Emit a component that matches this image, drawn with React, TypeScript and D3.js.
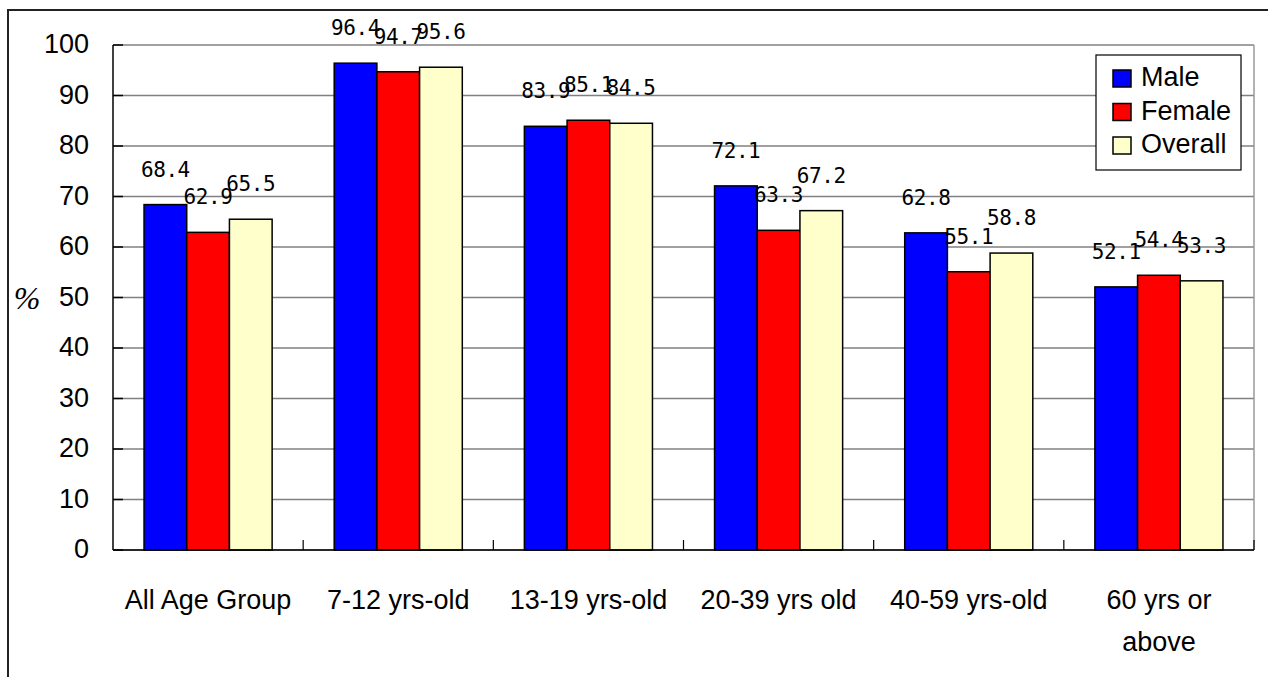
import React from "react";
import * as d3 from "d3";

const categories = ["All Age Group", "7-12 yrs-old", "13-19 yrs-old", "20-39 yrs old", "40-59 yrs-old", "60 yrs or above"];
const categoryLines = [["All Age Group"], ["7-12 yrs-old"], ["13-19 yrs-old"], ["20-39 yrs old"], ["40-59 yrs-old"], ["60 yrs or", "above"]];
const seriesNames = ["Male", "Female", "Overall"];
const maleValues = [68.4, 96.4, 83.9, 72.1, 62.8, 52.1];
const femaleValues = [62.9, 94.7, 85.1, 63.3, 55.1, 54.4];
const overallValues = [65.5, 95.6, 84.5, 67.2, 58.8, 53.3];
const seriesColors = ["#0000FF", "#FF0000", "#FFFFCC"];
const yTicks = [0, 10, 20, 30, 40, 50, 60, 70, 80, 90, 100];

const W = 1268;
const H = 677;
const plot = { left: 113, right: 1254, top: 45, bottom: 550 };
const sansFont = "'Liberation Sans', Arial, sans-serif";
const monoFont = "'DejaVu Sans Mono', 'Liberation Mono', monospace";

export default function App() {
  const seriesValues = [maleValues, femaleValues, overallValues];
  const x0 = d3.scaleBand<string>().domain(categories).range([plot.left, plot.right]).paddingInner(0).paddingOuter(0);
  const x1 = d3.scaleBand<string>().domain(seriesNames).range([0, x0.bandwidth()]).paddingInner(0).paddingOuter(0.727);
  const y = d3.scaleLinear().domain([0, 100]).range([plot.bottom, plot.top]);

  return (
    <svg width={W} height={H} style={{ position: "absolute", left: 0, top: 0, display: "block", background: "#fff" }}>
      {/* outer frame */}
      <rect x={8} y={10} width={W} height={H} fill="none" stroke="#222" strokeWidth={2} />

      {/* gridlines */}
      {yTicks.map((t) => (
        <line key={"g" + t} x1={plot.left} x2={plot.right} y1={y(t)} y2={y(t)} stroke="#808080" strokeWidth={1.5} />
      ))}
      {/* plot border right */}
      <line x1={plot.right} x2={plot.right} y1={plot.top} y2={plot.bottom} stroke="#999" strokeWidth={1.5} />

      {/* bars */}
      {seriesNames.map((s, si) =>
        categories.map((c, ci) => {
          const v = seriesValues[si][ci];
          const bx = (x0(c) as number) + (x1(s) as number);
          return (
            <rect key={s + c} x={bx} y={y(v)} width={x1.bandwidth()} height={plot.bottom - y(v)} fill={seriesColors[si]} stroke="#000" strokeWidth={1.5} />
          );
        })
      )}

      {/* axes */}
      <line x1={plot.left} x2={plot.left} y1={plot.top} y2={plot.bottom} stroke="#000" strokeWidth={1.5} />
      <line x1={plot.left} x2={plot.right} y1={plot.bottom} y2={plot.bottom} stroke="#000" strokeWidth={1.5} />
      {yTicks.map((t) => (
        <line key={"yt" + t} x1={plot.left} x2={plot.left + 10} y1={y(t)} y2={y(t)} stroke="#000" strokeWidth={1.5} />
      ))}
      {categories.slice(1).map((c) => (
        <line key={"xt" + c} x1={x0(c) as number} x2={x0(c) as number} y1={plot.bottom} y2={plot.bottom - 10} stroke="#000" strokeWidth={1.2} />
      ))}
      <line x1={plot.right} x2={plot.right} y1={plot.bottom} y2={plot.bottom - 10} stroke="#000" strokeWidth={1.2} />

      {/* y tick labels */}
      {yTicks.map((t) => (
        <text key={"yl" + t} x={89} y={y(t) - 1} textAnchor="end" dominantBaseline="central" fontFamily={sansFont} fontSize={27} fill="#000">
          {t}
        </text>
      ))}
      <text x={27} y={298} textAnchor="middle" dominantBaseline="central" fontFamily="'Liberation Serif', serif" fontStyle="italic" fontSize={32} fill="#000">
        %
      </text>

      {/* x labels */}
      {categories.map((c, ci) =>
        categoryLines[ci].map((ln, li) => (
          <text key={c + li} x={(x0(c) as number) + x0.bandwidth() / 2} y={609 + li * 42} textAnchor="middle" fontFamily={sansFont} fontSize={27} fill="#000">
            {ln}
          </text>
        ))
      )}

      {/* value labels */}
      {seriesNames.map((s, si) =>
        categories.map((c, ci) => {
          const v = seriesValues[si][ci];
          const cx = (x0(c) as number) + (x1(s) as number) + x1.bandwidth() / 2;
          return (
            <text key={"v" + s + c} x={cx} y={y(v) - 28} textAnchor="middle" fontFamily={monoFont} fontSize={21} letterSpacing={-0.4} fill="#000">
              {v.toFixed(1)}
            </text>
          );
        })
      )}

      {/* legend */}
      <rect x={1096} y={55} width={145} height={115} fill="#fff" stroke="#000" strokeWidth={1.2} />
      {seriesNames.map((s, si) => (
        <g key={"lg" + s}>
          <rect x={1113} y={70 + si * 33.5} width={18} height={17} fill={seriesColors[si]} stroke="#000" strokeWidth={1.5} />
          <text x={1141} y={86 + si * 33.5} fontFamily={sansFont} fontSize={27} fill="#000">
            {s}
          </text>
        </g>
      ))}
    </svg>
  );
}
